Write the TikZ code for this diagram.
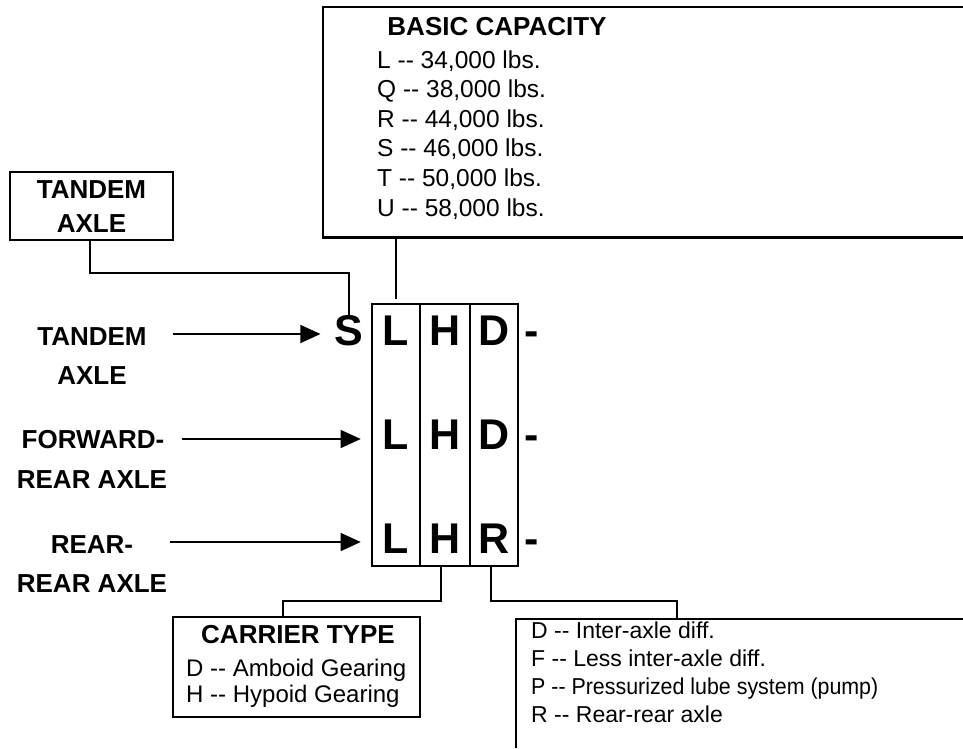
\documentclass[tikz,border=0pt]{standalone}
\usepackage{fontspec}
\setmainfont{Liberation Sans}
\usetikzlibrary{arrows.meta}
\begin{document}
\begin{tikzpicture}[x=1pt,y=-1pt,
  box/.style={draw, line width=2.6pt, inner sep=0pt},
  openbox/.style={line width=2.6pt},
  colbox/.style={draw, line width=2.6pt, inner sep=0pt, minimum height=262pt},
  conn/.style={line width=1.4pt},
  arr/.style={line width=1.4pt, -{Triangle[length=20pt,width=18pt]}},
  title/.style={font=\fontsize{26}{30}\selectfont\bfseries, inner sep=0pt, anchor=base},
  item/.style={font=\fontsize{24}{28}\selectfont, inner sep=0pt, anchor=base west},
  bitem/.style={font=\fontsize{24.5}{28}\selectfont, inner sep=0pt, anchor=base west},
  ritem/.style={font=\fontsize{23}{27}\selectfont, inner sep=0pt, anchor=base west},
  big/.style={font=\fontsize{43}{48}\selectfont\bfseries, inner sep=0pt, anchor=base},
  lbl/.style={font=\fontsize{26}{30}\selectfont\bfseries, inner sep=0pt, anchor=base}]
\useasboundingbox (0,0) rectangle (963,748);

% ---- BASIC CAPACITY box (open to the right)
\node[inner sep=0pt, minimum width=640pt, minimum height=230pt] (basic) at (643,122) {};
\draw[openbox] (basic.north east) -- (basic.north west) -- (basic.south west) -- (basic.south east);
\node[title] (bt) at (497,35) {BASIC CAPACITY};
\node[bitem] (b1) at (377,68) {L -{}- 34,000 lbs.};
\node[bitem] (b2) at (377,97.6) {Q -{}- 38,000 lbs.};
\node[bitem] (b3) at (377,127.2) {R -{}- 44,000 lbs.};
\node[bitem] (b4) at (377,156.8) {S -{}- 46,000 lbs.};
\node[bitem] (b5) at (377,186.4) {T -{}- 50,000 lbs.};
\node[bitem] (b6) at (377,216) {U -{}- 58,000 lbs.};

% ---- TANDEM AXLE box
\node[box, minimum width=163pt, minimum height=68pt] (tbox) at (91.5,206) {};
\node[lbl] (tb1) at (91.5,198) {TANDEM};
\node[lbl] (tb2) at (91.5,232) {AXLE};

% ---- columns
\node[colbox, minimum width=48pt] (col1) at (396,435) {};
\node[colbox, minimum width=50pt] (col2) at (445,435) {};
\node[colbox, minimum width=48pt] (col3) at (494,435) {};

% ---- letters
\node[big] (s1) at (349,345) {S};
\node[big] (l1) at (396,345) {L};
\node[big] (h1) at (445,345) {H};
\node[big] (d1) at (494,345) {D};
\node[big] (m1) at (532,345) {-};
\node[big] (l2) at (396,449) {L};
\node[big] (h2) at (445,449) {H};
\node[big] (d2) at (494,449) {D};
\node[big] (m2) at (532,449) {-};
\node[big] (l3) at (396,553) {L};
\node[big] (h3) at (445,553) {H};
\node[big] (r3) at (494,553) {R};
\node[big] (m3) at (532,553) {-};

% ---- left labels
\node[lbl] (ta1) at (92,345) {TANDEM};
\node[lbl] (ta2) at (92,384) {AXLE};
\node[lbl] (fr1) at (93,448) {FORWARD-};
\node[lbl] (fr2) at (92,488) {REAR AXLE};
\node[lbl] (rr1) at (92,553) {REAR-};
\node[lbl] (rr2) at (92,592) {REAR AXLE};

% ---- arrows
\coordinate (a1s) at (173,334);
\coordinate (a2s) at (182,439);
\coordinate (a3s) at (170,542);
\draw[arr, shorten >=14pt] (a1s) -- (a1s -| s1.west);
\draw[arr, shorten >=10pt] (a2s) -- (a2s -| col1.west);
\draw[arr, shorten >=10pt] (a3s) -- (a3s -| col1.west);

% ---- CARRIER TYPE box
\node[box, minimum width=247pt, minimum height=100pt] (cbox) at (296.5,667) {};
\node[title] (ct) at (298,643) {CARRIER TYPE};
\node[item] (c1) at (186,676) {D -{}- Amboid Gearing};
\node[item] (c2) at (186,702) {H -{}- Hypoid Gearing};

% ---- right box (open right and bottom)
\node[inner sep=0pt, minimum width=447pt, minimum height=129pt] (rbox) at (739.5,683.5) {};
\draw[openbox] (rbox.north east) -- (rbox.north west) -- (rbox.south west);
\node[ritem] (r1) at (531,638) {D -{}- Inter-axle diff.};
\node[ritem] (r2) at (531,666) {F -{}- Less inter-axle diff.};
\node[ritem] (r3t) at (531,694) {\scalebox{0.93}[1]{P -{}- Pressurized lube system (pump)}};
\node[ritem] (r4) at (531,722) {R -{}- Rear-rear axle};

% ---- connectors
\coordinate (k2) at (0,601);
\coordinate (cx) at (283,0);
\coordinate (rx) at (677,0);
\draw[conn] (tbox.south -| 90,0) -- (90,273) -| ([yshift=-2pt]s1.north);
\draw[conn, shorten >=4pt] (basic.south -| col1.north) -- (col1.north);
\draw[conn] ([xshift=-4pt]col2.south) |- (cx |- k2) -- (cx |- cbox.north);
\draw[conn] ([xshift=-3pt]col3.south) |- (rx |- k2) -- (rx |- rbox.north);
\end{tikzpicture}
\end{document}
